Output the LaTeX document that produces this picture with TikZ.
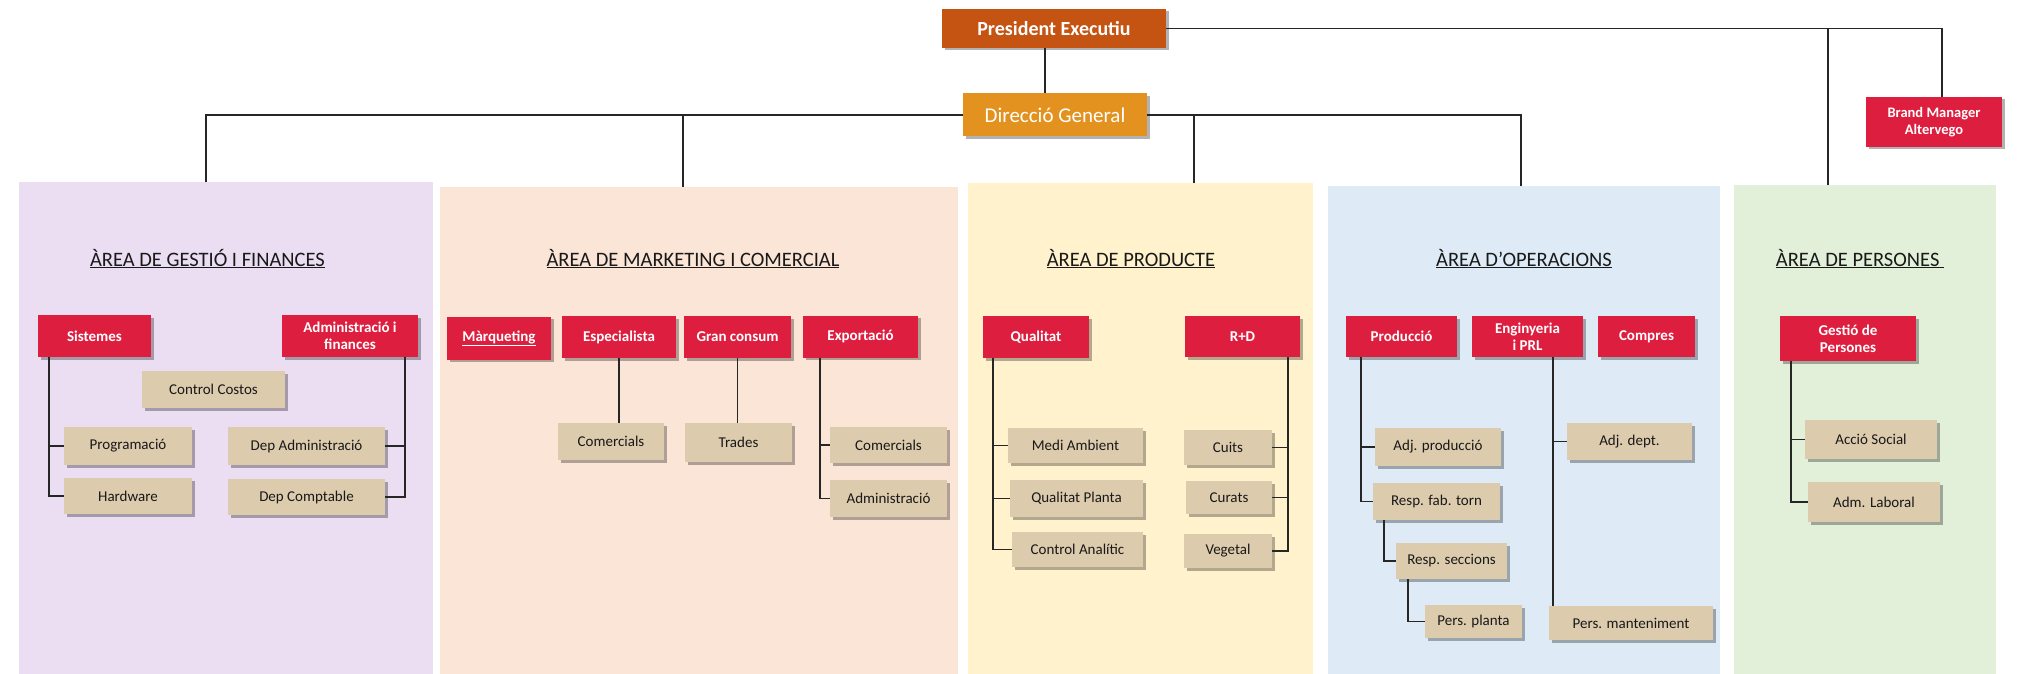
\documentclass[tikz,border=0pt]{standalone}
\usepackage{fontspec}
\setmainfont{Carlito}
\usetikzlibrary{shadows,calc}
\definecolor{presc}{HTML}{C55311}
\definecolor{dirc}{HTML}{E3921F}
\definecolor{redc}{HTML}{DE1E3E}
\definecolor{tanc}{HTML}{DDCBAD}
\definecolor{purpc}{HTML}{EBDEF3}
\definecolor{peachc}{HTML}{FBE5D6}
\definecolor{yelc}{HTML}{FFF2CC}
\definecolor{bluec}{HTML}{DEEBF7}
\definecolor{greenc}{HTML}{E2F0D9}
\definecolor{linec}{HTML}{262626}
\begin{document}
\begin{tikzpicture}[x=1pt,y=-1pt,
  panel/.style={inner sep=0pt, outer sep=0pt, draw=none},
  shad/.style={drop shadow={shadow xshift=2.5pt,shadow yshift=-2.5pt,fill=black,opacity=0.3}},
  redbox/.style={shad, fill=redc, text=white, inner sep=0pt, outer sep=0pt, align=center, font=\fontsize{15}{17}\selectfont\bfseries},
  tanbox/.style={shad, fill=tanc, text=black!90, inner sep=0pt, outer sep=0pt, align=center, font=\fontsize{15}{17}\selectfont},
  areatitle/.style={anchor=base, text=black!90, inner sep=0pt, font=\fontsize{20.5}{24}\selectfont},
  conn/.style={draw=linec, line width=1.6pt},
  sz/.style 2 args={minimum width=#1, minimum height=#2},
]
\useasboundingbox (0,0) rectangle (2021,674);
\fill[white] (0,0) rectangle (2021,674);

% area panels
\node[panel, fill=purpc, sz={414}{492}] (p1) at (226,428) {};
\node[panel, fill=peachc, sz={518}{487}] (p2) at (699,430.5) {};
\node[panel, fill=yelc, sz={345}{491}] (p3) at (1140.5,428.5) {};
\node[panel, fill=bluec, sz={392}{488}] (p4) at (1524,430) {};
\node[panel, fill=greenc, sz={262}{489}] (p5) at (1865,429.5) {};

\coordinate (d1) at (206,182);
\coordinate (d2) at (683,187);
\coordinate (d3) at (1194,183);
\coordinate (d4) at (1521,186);
\coordinate (d5) at (1828,185);

% top level
\node[shad, fill=presc, text=white, inner sep=0pt, sz={224}{39}, font=\fontsize{20}{24}\selectfont\bfseries] (pres) at (1054,28.5) {President Executiu};
\node[shad, fill=dirc, text=white, inner sep=0pt, sz={184}{43}, font=\fontsize{21}{24}\selectfont] (dir) at (1055,115) {Direcció General};
\node[redbox, sz={136}{50}, font=\fontsize{14.5}{17}\selectfont\bfseries] (brand) at (1934,122) {Brand Manager\\Altervego};

\draw[conn] ([xshift=-9pt]pres.south) -- ([xshift=-9pt]pres.south |- dir.north);
\draw[conn] (pres.east) -| ([xshift=8pt]brand.north);
\draw[conn] (pres.east) -| (d5);
\draw[conn] (dir.west) -| (d1);
\draw[conn] (d2 |- dir.west) -- (d2);
\draw[conn] (dir.east) -| (d4);
\draw[conn] (d3 |- dir.east) -- (d3);

% titles
\node[areatitle] (t1) at (207.5,266) {\underline{ÀREA DE GESTIÓ I FINANCES}};
\node[areatitle] (t2) at (693,266) {\underline{ÀREA DE MARKETING I COMERCIAL}};
\node[areatitle] (t3) at (1131,266) {\underline{ÀREA DE PRODUCTE}};
\node[areatitle] (t4) at (1524,266) {\underline{ÀREA D’OPERACIONS}};
\node[areatitle] (t5) at (1860,266) {\underline{ÀREA DE PERSONES\ }};

% Gestio i finances
\node[redbox, sz={113}{42}] (sist) at (94.5,336) {Sistemes};
\node[redbox, sz={136}{42}] (adfin) at (350,336) {Administració i\\finances};
\node[tanbox, sz={143}{37}] (ctrl) at (213.5,389.5) {Control Costos};
\node[tanbox, sz={128}{38}] (prog) at (128,446) {Programació};
\node[tanbox, sz={128}{36}] (hard) at (128,496) {Hardware};
\node[tanbox, sz={157}{38}] (depad) at (306.5,446) {Dep Administració};
\node[tanbox, sz={157}{36}] (depco) at (306.5,497) {Dep Comptable};
\draw[conn] ([xshift=11pt]sist.south west) |- (prog.west);
\draw[conn] ([xshift=11pt]sist.south west) |- (hard.west);
\draw[conn] ([xshift=-13pt]adfin.south east) |- (depad.east);
\draw[conn] ([xshift=-13pt]adfin.south east) |- (depco.east);

% Marketing i comercial
\node[redbox, sz={104}{43}] (marq) at (499,338) {\underline{Màrqueting}};
\node[redbox, sz={114}{42}] (espec) at (619,337) {Especialista};
\node[redbox, sz={107}{42}] (gran) at (737.5,337) {Gran consum};
\node[redbox, sz={115}{42}] (expo) at (860.5,336.5) {Exportació};
\node[tanbox, sz={106}{37}] (com1) at (611,441.5) {Comercials};
\node[tanbox, sz={107}{39}] (trad) at (738.5,442.5) {Trades};
\node[tanbox, sz={117}{36}] (com2) at (888.5,445) {Comercials};
\node[tanbox, sz={117}{37}] (admi) at (888.5,498.5) {Administració};
\draw[conn] (espec.south) -- (espec.south |- com1.north);
\draw[conn] (gran.south) -- (gran.south |- trad.north);
\draw[conn] ([xshift=17pt]expo.south west) |- (com2.west);
\draw[conn] ([xshift=17pt]expo.south west) |- (admi.west);

% Producte
\node[redbox, sz={106}{42}] (qual) at (1036,337) {Qualitat};
\node[redbox, sz={115}{41}] (rd) at (1242.5,336.5) {R+D};
\node[tanbox, sz={135}{35}] (medi) at (1075.5,445.5) {Medi Ambient};
\node[tanbox, sz={133}{37}] (qplan) at (1076.5,498.5) {Qualitat Planta};
\node[tanbox, sz={131}{35}] (cana) at (1077.5,549.5) {Control Analític};
\node[tanbox, sz={88}{35}] (cuits) at (1228,447.5) {Cuits};
\node[tanbox, sz={86}{33}] (curats) at (1229,497.5) {Curats};
\node[tanbox, sz={88}{34}] (veg) at (1228,551) {Vegetal};
\draw[conn] ([xshift=10pt]qual.south west) |- (medi.west);
\draw[conn] ([xshift=10pt]qual.south west) |- (qplan.west);
\draw[conn] ([xshift=10pt]qual.south west) |- (cana.west);
\draw[conn] ([xshift=-12pt]rd.south east) |- (cuits.east);
\draw[conn] ([xshift=-12pt]rd.south east) |- (curats.east);
\draw[conn] ([xshift=-12pt]rd.south east) |- (veg.east);

% Operacions
\node[redbox, sz={111}{41}] (prod) at (1401.5,336.5) {Producció};
\node[redbox, sz={111}{41}] (engi) at (1527.5,336.5) {Enginyeria\\i PRL};
\node[redbox, sz={97}{41}] (comp) at (1646.5,336.5) {Compres};
\node[tanbox, sz={126}{38}] (adjp) at (1438,447) {Adj. producció};
\node[tanbox, sz={127}{37}] (rft) at (1436.5,501.5) {Resp. fab. torn};
\node[tanbox, sz={111}{36}] (rsec) at (1451.5,561) {Resp. seccions};
\node[tanbox, sz={97}{33}] (pplan) at (1473.5,621.5) {Pers. planta};
\node[tanbox, sz={125}{37}] (adjd) at (1629.5,441.5) {Adj. dept.};
\node[tanbox, sz={164}{34}] (pman) at (1631,623) {Pers. manteniment};
\draw[conn] ([xshift=15pt]prod.south west) |- (adjp.west);
\draw[conn] ([xshift=15pt]prod.south west) |- (rft.west);
\draw[conn] ([xshift=11pt]rft.south west) |- (rsec.west);
\draw[conn] ([xshift=12pt]rsec.south west) |- (pplan.west);
\draw[conn] ([xshift=25.5pt]engi.south) |- (adjd.west);
\draw[conn] ([xshift=25.5pt]engi.south) -- ([xshift=25.5pt]engi.south |- pman.north);

% Persones
\node[redbox, sz={136}{45}] (gper) at (1848,338.5) {Gestió de\\Persones};
\node[tanbox, sz={132}{39}] (accio) at (1871,439.5) {Acció Social};
\node[tanbox, sz={132}{40}] (adml) at (1874,502) {Adm. Laboral};
\draw[conn] ([xshift=11pt]gper.south west) |- (accio.west);
\draw[conn] ([xshift=11pt]gper.south west) |- (adml.west);
\end{tikzpicture}
\end{document}
